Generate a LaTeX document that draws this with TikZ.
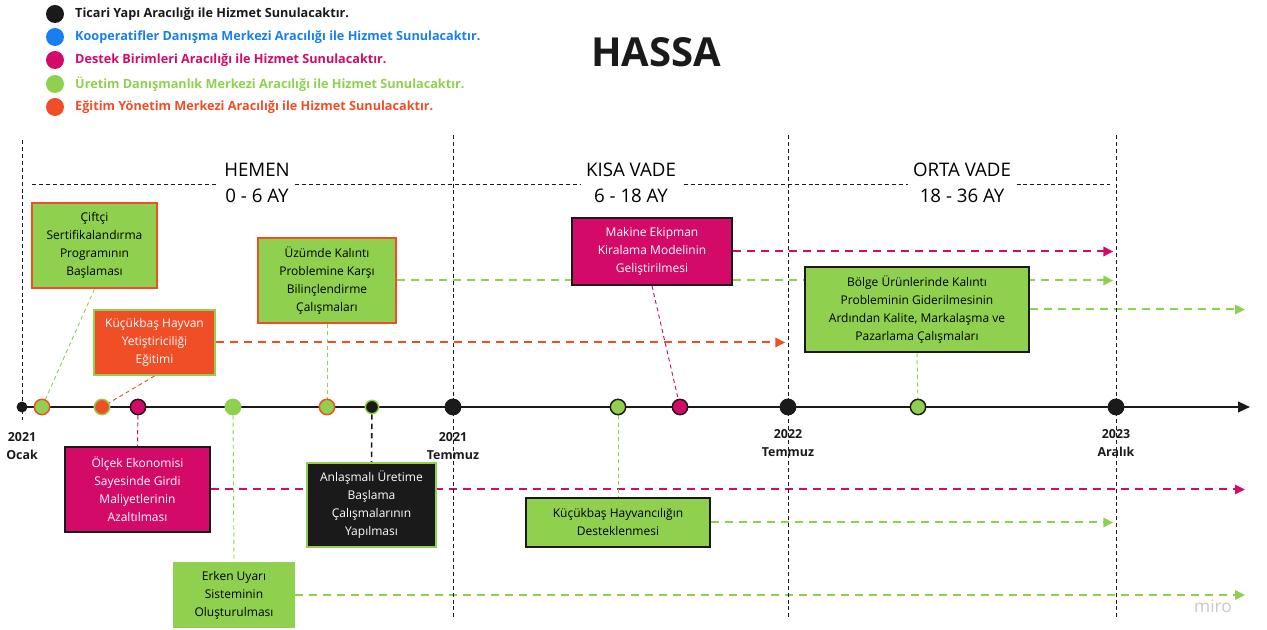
\documentclass[tikz,border=0pt]{standalone}
\usepackage{fontspec}
\setmainfont{Open Sans}
\usetikzlibrary{arrows.meta,positioning,calc}

\definecolor{tblack}{HTML}{1A1A1A}
\definecolor{tblue}{HTML}{177FF0}
\definecolor{tmag}{HTML}{D40A68}
\definecolor{tgreen}{HTML}{8FD14F}
\definecolor{torange}{HTML}{F04E27}
\definecolor{tgrey}{HTML}{C8C8C8}

\pgfdeclarelayer{under}
\pgfsetlayers{under,main}

\tikzset{
  sz/.style 2 args={minimum width=#1*0.75pt, minimum height=#2*0.75pt},
  card/.style 2 args={fill=#1, draw=#2, line width=1.5pt, align=center, inner sep=2pt,
    font=\fontsize{9}{13.5}\selectfont},
  bead/.style 2 args={circle, fill=#1, draw=#2, line width=1.1pt, minimum size=11.5pt, inner sep=0pt},
  flow/.style={draw=#1, line width=1.5pt, dash pattern=on 6pt off 4.5pt,
    -{Triangle[length=7.5pt,width=7pt,fill=#1]}},
  stem/.style={draw=#1, line width=0.7pt, dash pattern=on 3pt off 2.5pt},
  vline/.style={draw=tblack, line width=0.7pt, dash pattern=on 3pt off 2.2pt},
  phase/.style={fill=white, align=center, inner sep=4pt, font=\fontsize{14}{19.5}\selectfont},
  datelbl/.style={align=center, inner sep=0pt, text=tblack, font=\bfseries\fontsize{9.3}{13.5}\selectfont},
  legdot/.style={circle, fill=#1, minimum size=13.5pt, inner sep=0pt},
  legtxt/.style={inner sep=0pt, text=#1, font=\bfseries\fontsize{9.5}{11}\selectfont}
}

\begin{document}
\begin{tikzpicture}[x=0.75pt, y=-0.75pt, >=Stealth]
\useasboundingbox (0,0) rectangle (1267,630);

% legend
\node[legdot=tblack] (lg1) at (55,14) {};
\node[legdot=tblue] (lg2) at (55,37) {};
\node[legdot=tmag] (lg3) at (55,60) {};
\node[legdot=tgreen] (lg4) at (55,84) {};
\node[legdot=torange] (lg5) at (55,107) {};
\node[legtxt=tblack, right=8pt of lg1] (lt1) {Ticari Yapı Aracılığı ile Hizmet Sunulacaktır.};
\node[legtxt=tblue, right=8pt of lg2] (lt2) {Kooperatifler Danışma Merkezi Aracılığı ile Hizmet Sunulacaktır.};
\node[legtxt=tmag, right=8pt of lg3] (lt3) {Destek Birimleri Aracılığı ile Hizmet Sunulacaktır.};
\node[legtxt=tgreen, right=8pt of lg4] (lt4) {Üretim Danışmanlık Merkezi Aracılığı ile Hizmet Sunulacaktır.};
\node[legtxt=torange, right=8pt of lg5] (lt5) {Eğitim Yönetim Merkezi Aracılığı ile Hizmet Sunulacaktır.};

\node[text=tblack, font=\bfseries\fontsize{30}{36}\selectfont] (title) at (656,52) {HASSA};

% period borders
\coordinate (vt0) at (22,140);  \coordinate (vb0) at (22,420);
\coordinate (vt1) at (453,135); \coordinate (vb1) at (453,618);
\coordinate (vt2) at (788,135); \coordinate (vb2) at (788,620);
\coordinate (vt3) at (1116,135); \coordinate (vb3) at (1116,620);
\draw[vline] (vt0) -- (vb0);
\draw[vline] (vt1) -- (vb1);
\draw[vline] (vt2) -- (vb2);
\draw[vline] (vt3) -- (vb3);

\coordinate (hl) at (32,184);
\coordinate (hr) at (1110,184);
\draw[vline, line width=0.6pt] (hl) -- (hr);
\node[phase] (hemen) at (257,183) {HEMEN\\0 - 6 AY};
\node[phase] (kisa) at (631,183) {KISA VADE\\6 - 18 AY};
\node[phase] (orta) at (962,183) {ORTA VADE\\18 - 36 AY};

% timeline
\coordinate (axL) at (22,407);
\coordinate (axR) at (1250,407);
\coordinate (rim) at (1245,407);
\draw[tblack, line width=1.6pt, -{Triangle[length=9pt,width=8pt]}] (axL) -- (axR);
\node[bead={tblack}{tblack}, minimum size=7pt] (ocak) at (22,407) {};
\node[bead={tgreen}{torange}] (dCert) at (42,407) {};
\node[bead={torange}{tgreen}] (dEgit) at (102,407) {};
\node[bead={tmag}{tblack}] (dOlcek) at (138,407) {};
\node[bead={tgreen}{tgreen}] (dUyari) at (233,407) {};
\node[bead={tgreen}{torange}] (dKal) at (327,407) {};
\node[bead={tblack}{tgreen}, minimum size=10pt] (dAnl) at (372,407) {};
\node[bead={tblack}{tblack}] (tem21) at (453,407) {};
\node[bead={tgreen}{tblack}] (dHay) at (618,407) {};
\node[bead={tmag}{tblack}] (dMak) at (680,407) {};
\node[bead={tblack}{tblack}] (tem22) at (788,407) {};
\node[bead={tgreen}{tblack}] (dBol) at (918,407) {};
\node[bead={tblack}{tblack}] (ara23) at (1116,407) {};

% tasks
\node[card={tgreen}{torange}, sz={125}{85}] (cert) at (94.5,245.5) {Çiftçi\\Sertifikalandırma\\Programının\\Başlaması};
\node[card={torange}{tgreen}, text=white, sz={121}{65}] (egitim) at (154.5,342.5) {Küçükbaş Hayvan\\Yetiştiriciliği\\Eğitimi};
\node[card={tgreen}{torange}, sz={138}{85}] (kalinti) at (327,280.5) {Üzümde Kalıntı\\Problemine Karşı\\Bilinçlendirme\\Çalışmaları};
\node[card={tmag}{tblack}, text=white, sz={160}{67}] (makine) at (652,251.5) {Makine Ekipman\\Kiralama Modelinin\\Geliştirilmesi};
\node[card={tgreen}{tblack}, sz={224}{85}] (bolge) at (917,309.5) {Bölge Ürünlerinde Kalıntı\\Probleminin Giderilmesinin\\Ardından Kalite, Markalaşma ve\\Pazarlama Çalışmaları};
\node[card={tmag}{tblack}, text=white, sz={145}{85}] (olcek) at (137.5,489.5) {Ölçek Ekonomisi\\Sayesinde Girdi\\Maliyetlerinin\\Azaltılması};
\node[card={tblack}{tgreen}, text=white, sz={129}{84}] (anlasma) at (371.5,505) {Anlaşmalı Üretime\\Başlama\\Çalışmalarının\\Yapılması};
\node[card={tgreen}{tblack}, sz={184}{49}] (hayvan) at (618,522.5) {Küçükbaş Hayvancılığın\\Desteklenmesi};
\node[card={tgreen}{tgreen}, sz={120}{64}] (uyari) at (234,595) {Erken Uyarı\\Sisteminin\\Oluşturulması};

\begin{pgfonlayer}{under}
% durations
\draw[flow=torange, shorten >=2pt] (egitim.east) -- (egitim.east -| tem22);
\draw[flow=tgreen, shorten >=2pt] (kalinti.east) -- (kalinti.east -| ara23);
\draw[flow=tmag, shorten >=2pt] (makine.east) -- (makine.east -| ara23);
\draw[flow=tgreen] (bolge.east) -- (bolge.east -| rim);
\draw[flow=tmag] (olcek.east) -- (olcek.east -| rim);
\draw[flow=tgreen, shorten >=2pt] (hayvan.east) -- (hayvan.east -| ara23);
\draw[flow=tgreen] (uyari.east) -- (uyari.east -| rim);

% stems to the timeline
\draw[stem=tgreen] (cert.south) -- (dCert);
\draw[stem=torange] (egitim.south) -- (dEgit);
\draw[stem=tgreen] (kalinti.south) -- (dKal);
\draw[stem=tmag] (makine.south) -- (dMak);
\draw[stem=tgreen] (bolge.south) -- (dBol);
\draw[stem=tmag] (dOlcek) -- (olcek.north);
\draw[stem=tblack, line width=1.2pt, dash pattern=on 4pt off 3pt] (dAnl) -- (anlasma.north);
\draw[stem=tgreen] (dHay) -- (hayvan.north);
\draw[stem=tgreen] (dUyari) -- (uyari.north);
\end{pgfonlayer}

\node[datelbl] (lOcak) at (22,446) {2021\\Ocak};
\node[datelbl] (lTem21) at (453,446) {2021\\Temmuz};
\node[datelbl] (lTem22) at (788,443) {2022\\Temmuz};
\node[datelbl] (lAra23) at (1116,443) {2023\\Aralık};

\node[text=tgrey, font=\fontsize{13}{15}\selectfont] (miro) at (1213,606) {miro};
\end{tikzpicture}
\end{document}
